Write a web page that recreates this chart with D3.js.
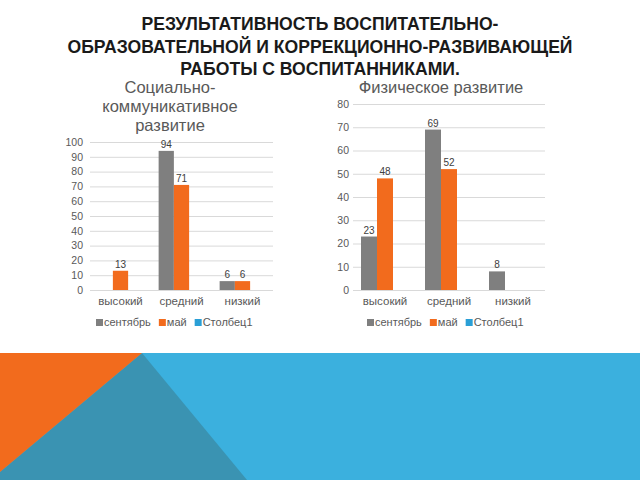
<!DOCTYPE html>
<html>
<head>
<meta charset="utf-8">
<script src="https://cdn.jsdelivr.net/npm/d3@7"></script>
<style>
  body { margin: 0; background: #fff; }
  text { font-family: "Liberation Sans", Arial, sans-serif; }
</style>
</head>
<body>
<div class="canvas"></div>
<script>
// data
const categories = ['высокий', 'средний', 'низкий'];
const seriesNames = ['сентябрь', 'май', 'Столбец1'];
const seriesColors = ['#7f7f7f', '#f26b1d', '#2a9fd6'];

const socialSept = [null, 94, 6];
const socialMay = [13, 71, 6];
const socialCol1 = [null, null, null];
const socialTicks = [0, 10, 20, 30, 40, 50, 60, 70, 80, 90, 100];

const physSept = [23, 69, 8];
const physMay = [48, 52, null];
const physCol1 = [null, null, null];
const physTicks = [0, 10, 20, 30, 40, 50, 60, 70, 80];

const titleLines = [
    'РЕЗУЛЬТАТИВНОСТЬ ВОСПИТАТЕЛЬНО-',
    'ОБРАЗОВАТЕЛЬНОЙ И КОРРЕКЦИОННО-РАЗВИВАЮЩЕЙ',
    'РАБОТЫ С ВОСПИТАННИКАМИ.'
];

const svg = d3.select('.canvas')
    .append('svg')
        .attr('width', 640)
        .attr('height', 480);

svg.append('rect').attr('width', 640).attr('height', 480).attr('fill', '#fff');

// bottom decoration of the slide
svg.append('rect')
    .attr('x', 0).attr('y', 353).attr('width', 640).attr('height', 127)
    .attr('fill', '#3bb0de');
svg.append('polygon')
    .attr('points', '142,353 247,480 0,480 0,472')
    .attr('fill', '#3a93b2');
svg.append('polygon')
    .attr('points', '0,353 142,353 0,472')
    .attr('fill', '#f26b1d');

// slide title
svg.append('g').selectAll('text')
    .data(titleLines)
    .enter()
    .append('text')
        .attr('x', 320)
        .attr('y', (d, i) => 30 + i * 22.5)
        .attr('text-anchor', 'middle')
        .attr('font-size', 17.6)
        .attr('font-weight', 'bold')
        .attr('fill', '#1a1a1a')
        .text(d => d);

function drawChart(opt) {
    const g = svg.append('g');
    const data = categories.map((c, i) => ({
        cat: c,
        vals: opt.series.map((s, j) => ({ name: seriesNames[j], v: s[i], color: seriesColors[j] }))
    }));

    const y = d3.scaleLinear()
        .domain([0, opt.max])
        .range([290, opt.top]);

    const x = d3.scaleBand()
        .domain(categories)
        .range([opt.left, opt.right]);

    const xs = d3.scaleBand()
        .domain(seriesNames)
        .range([0, x.bandwidth()])
        .paddingInner(0)
        .paddingOuter(0.5);

    // grid + tick labels
    const yAxis = d3.axisLeft(y)
        .tickValues(opt.ticks)
        .tickSize(-(opt.right - opt.left))
        .tickPadding(opt.pad);

    const yAxisGroup = g.append('g')
        .attr('transform', `translate(${opt.left},0)`)
        .call(yAxis);
    yAxisGroup.select('.domain').remove();
    yAxisGroup.selectAll('line').attr('stroke', '#d9d9d9');
    yAxisGroup.selectAll('text')
        .attr('fill', '#595959')
        .attr('font-size', 10.5)
        .style('font-family', '"Liberation Sans", Arial, sans-serif');

    const groups = g.selectAll('g.grp')
        .data(data)
        .enter()
        .append('g')
            .attr('class', 'grp')
            .attr('transform', d => `translate(${x(d.cat)},0)`);

    const bars = groups.selectAll('rect')
        .data(d => d.vals.filter(v => v.v != null));

    bars.enter()
        .append('rect')
            .attr('x', d => xs(d.name))
            .attr('width', xs.bandwidth())
            .attr('y', d => y(d.v))
            .attr('height', d => y(0) - y(d.v))
            .attr('fill', d => d.color);

    groups.selectAll('text.lbl')
        .data(d => d.vals.filter(v => v.v != null))
        .enter()
        .append('text')
            .attr('class', 'lbl')
            .attr('x', d => xs(d.name) + xs.bandwidth() / 2)
            .attr('y', d => y(d.v) - 3)
            .attr('text-anchor', 'middle')
            .attr('font-size', 10)
            .attr('fill', '#404040')
            .text(d => d.v);

    // category labels
    g.selectAll('text.cat')
        .data(categories)
        .enter()
        .append('text')
            .attr('class', 'cat')
            .attr('x', d => x(d) + x.bandwidth() / 2)
            .attr('y', 305)
            .attr('text-anchor', 'middle')
            .attr('font-size', 11.5)
            .attr('fill', '#595959')
            .text(d => d);

    // chart title
    g.selectAll('text.ttl')
        .data(opt.title)
        .enter()
        .append('text')
            .attr('class', 'ttl')
            .attr('x', opt.titleX)
            .attr('y', (d, i) => opt.titleY + i * 19)
            .attr('text-anchor', 'middle')
            .attr('font-size', 16.5)
            .attr('fill', '#595959')
            .text(d => d);

    // legend
    const legend = g.append('g').attr('transform', `translate(${opt.legendX},326)`);
    let lx = 0;
    seriesNames.forEach((s, i) => {
        legend.append('rect')
            .attr('x', lx).attr('y', -7).attr('width', 7).attr('height', 7)
            .attr('fill', seriesColors[i]);
        const t = legend.append('text')
            .attr('x', lx + 8).attr('y', 0)
            .attr('font-size', 11)
            .attr('fill', '#595959')
            .text(s);
        lx += 8 + t.node().getComputedTextLength() + 8;
    });
}

drawChart({
    series: [socialSept, socialMay, socialCol1],
    ticks: socialTicks,
    max: 100, top: 142,
    left: 90, right: 273, pad: 7,
    title: ['Социально-', 'коммуникативное', 'развитие'],
    titleX: 170, titleY: 93,
    legendX: 96
});

drawChart({
    series: [physSept, physMay, physCol1],
    ticks: physTicks,
    max: 80, top: 104,
    left: 353, right: 545, pad: 4,
    title: ['Физическое развитие'],
    titleX: 441, titleY: 93,
    legendX: 367
});
</script>
</body>
</html>
